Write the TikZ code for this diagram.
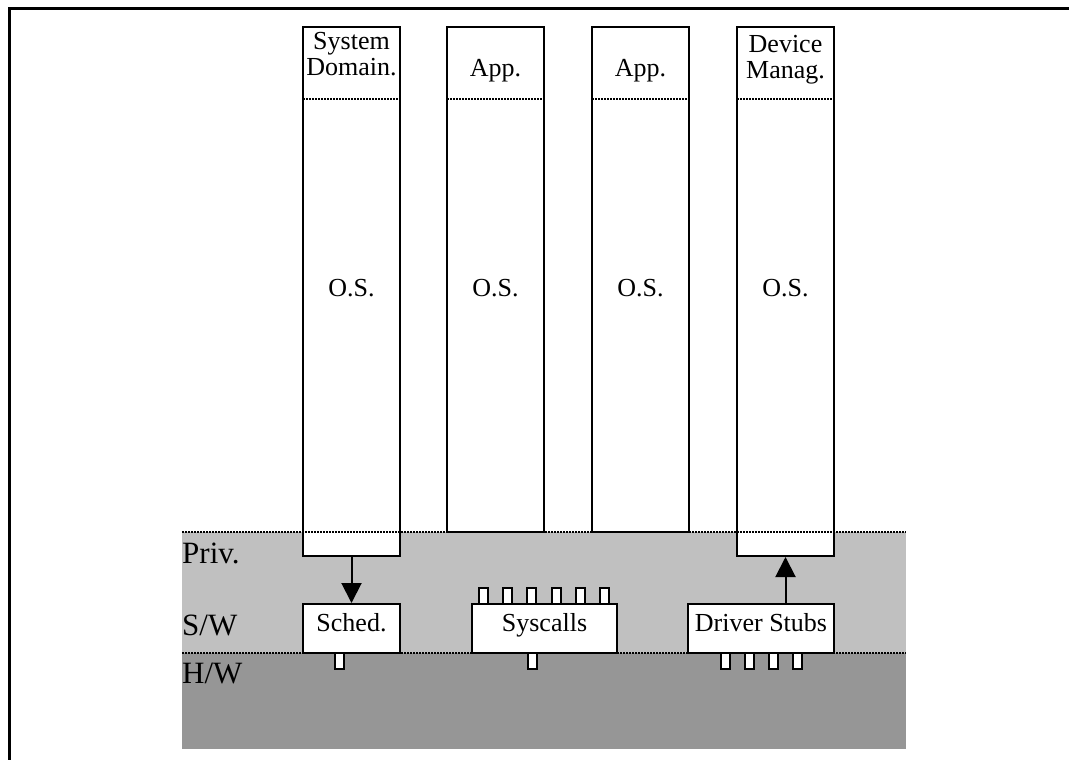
\documentclass[tikz,border=0pt]{standalone}
\usepackage{fontspec}
\setmainfont{Liberation Serif}
\usetikzlibrary{arrows.meta}
\definecolor{privgray}{RGB}{192,192,192}
\definecolor{hwgray}{RGB}{150,150,150}
\tikzset{
  txt/.style={font=\fontsize{26}{26}\selectfont, inner sep=0pt, anchor=base},
  side/.style={font=\fontsize{31}{31}\selectfont, inner sep=0pt, anchor=base west},
  colbox/.style={draw, fill=white, line width=2pt, minimum width=97pt, inner sep=0pt},
  unitbox/.style={draw, fill=white, line width=2pt, minimum height=49pt, inner sep=0pt},
  pin/.style={draw, fill=white, line width=2pt, minimum width=9pt, minimum height=16pt, inner sep=0pt},
  sep/.style={line width=1.5pt, dash pattern=on 1.5pt off 1.5pt},
  flow/.style={line width=2pt, -{Triangle[width=20pt,length=20pt]}}
}
\begin{document}
\begin{tikzpicture}[x=1pt,y=-1pt]
\useasboundingbox (0,0) rectangle (1069,760);

% privilege bands
\fill[privgray] (182,532) rectangle (906,653);
\fill[hwgray] (182,653) rectangle (906,749);

% outer frame
\draw[line width=3pt] (9,760) -- (9,9) -- (1069,9);

% domain columns
\node[colbox, minimum height=529pt] (c1) at (351.5,291.5) {};
\node[colbox, minimum height=505pt] (c2) at (495.5,279.5) {};
\node[colbox, minimum height=505pt] (c3) at (640.5,279.5) {};
\node[colbox, minimum height=529pt] (c4) at (785.5,291.5) {};

% header separators
\foreach \c in {c1,c2,c3,c4}
  \draw[sep] ([xshift=1pt]\c.west |- 0,99) -- ([xshift=-1pt]\c.east |- 0,99);

% band boundaries
\draw[sep] (182,532) -- (906,532);
\draw[sep] (182,653) -- (906,653);

% column labels
\node[txt] (h1a) at (351.5,50) {System};
\node[txt] (h1b) at (351.5,76) {Domain.};
\node[txt] (h2) at (495.5,77) {App.};
\node[txt] (h3) at (640.5,77) {App.};
\node[txt] (h4a) at (785.5,53) {Device};
\node[txt] (h4b) at (785.5,78) {Manag.};
\node[txt] (os1) at (351.5,296) {O.S.};
\node[txt] (os2) at (495.5,296) {O.S.};
\node[txt] (os3) at (640.5,296) {O.S.};
\node[txt] (os4) at (785.5,296) {O.S.};

% band labels
\node[side] (priv) at (182,563) {Priv.};
\node[side] (sw) at (182,635) {S/W};
\node[side] (hw) at (182,683) {H/W};

% pins
\node[pin] (ps) at (339.5,661) {};
\foreach \i/\x in {1/483.5,2/507.7,3/531.9,4/556.1,5/580.3,6/604.5}
  \node[pin] (pt\i) at (\x,596) {};
\node[pin] (pb) at (532.5,661) {};
\foreach \i/\x in {1/725,2/749.3,3/773.6,4/797.9}
  \node[pin] (pd\i) at (\x,661) {};

% kernel units
\node[unitbox, minimum width=97pt] (sched) at (351.5,628.5) {};
\node[unitbox, minimum width=145pt] (sys) at (544.5,628.5) {};
\node[unitbox, minimum width=146pt] (drv) at (761,628.5) {};
\node[txt] (schedt) at (351.5,631) {Sched.};
\node[txt] (syst) at (544.5,631) {Syscalls};
\node[txt] (drvt) at (761,631) {Driver Stubs};

% control flow
\draw[flow] (c1.south) -- (sched.north);
\draw[flow] (drv.north -| c4.south) -- (c4.south);
\end{tikzpicture}
\end{document}
